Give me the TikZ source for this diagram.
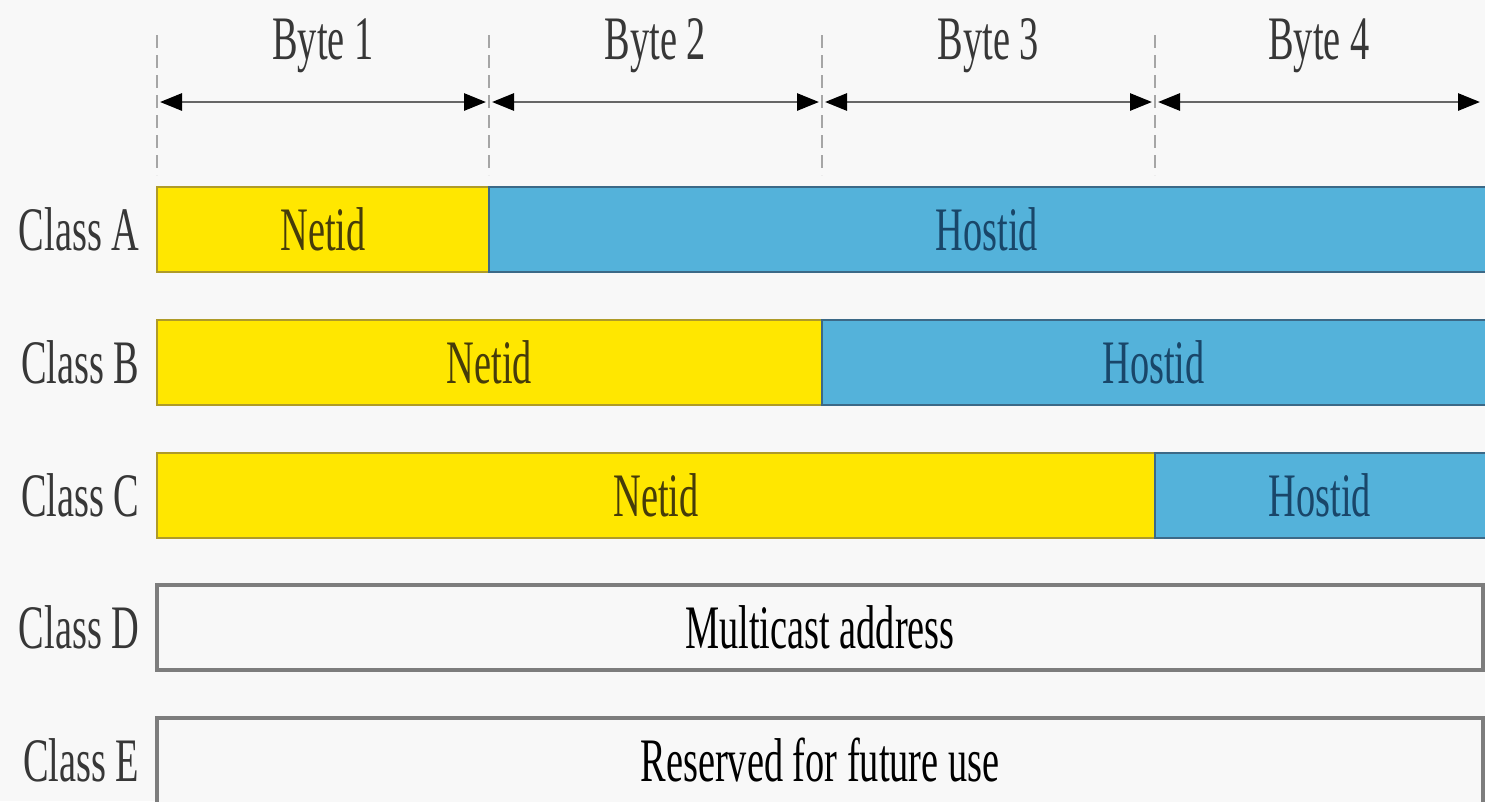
\documentclass[tikz,border=0pt]{standalone}
\usepackage{fontspec}
\setmainfont{Liberation Serif}[FakeStretch=0.62]
\usetikzlibrary{arrows.meta,positioning}
\definecolor{netyellow}{RGB}{255,231,0}
\definecolor{netedge}{RGB}{175,155,40}
\definecolor{nettext}{RGB}{70,60,10}
\definecolor{hostblue}{RGB}{84,178,218}
\definecolor{hostedge}{RGB}{60,105,135}
\definecolor{hosttext}{RGB}{25,70,105}
\definecolor{pagebg}{RGB}{248,248,248}
\definecolor{plainedge}{RGB}{125,125,125}
\definecolor{labelgray}{RGB}{55,55,55}
\tikzset{
  % every text in the same condensed serif
  every node/.append style={font=\fontsize{17.6}{20}\selectfont, inner sep=0pt},
  % Netid part
  netid/.style={draw=netedge, fill=netyellow, line width=0.8pt},
  % Hostid part
  hostid/.style={draw=hostedge, fill=hostblue, line width=0.8pt},
  % class D / E box
  plain/.style={draw=plainedge, fill=pagebg, line width=1.1pt},
  nettxt/.style={text=nettext},
  hosttxt/.style={text=hosttext},
  classlbl/.style={text=labelgray, anchor=east},
  % byte boundaries
  boundary/.style={gray!70, line width=0.5pt, dash pattern=on 1.3mm off 0.7mm},
  bytearr/.style={{Triangle[length=2.2mm, width=1.7mm, black]}-{Triangle[length=2.2mm, width=1.7mm, black]},
    gray!80!black, line width=0.8pt, shorten <=0.3mm, shorten >=0.3mm},
}
\begin{document}
\begin{tikzpicture}[x=0.1mm, y=-0.1mm]
    \useasboundingbox (0,0) rectangle (1485,801);
    \clip (0,0) rectangle (1485,801);
    \fill[pagebg] (0,0) rectangle (1485,801);

    % Byte boundaries
    \foreach \x in {157,489,822,1155}
        \draw[boundary] (\x,35) -- (\x,175);
    \foreach \i/\x in {0/157,1/489,2/822,3/1155,4/1483}
        \coordinate (b\i) at (\x,102);
    \foreach \i/\j in {0/1,1/2,2/3,3/4}
        \draw[bytearr] (b\i) -- (b\j) node[midway, yshift=5.6mm, text=labelgray] (byte\j) {Byte \j};

    % Classes A, B, C
    \foreach \name/\y/\split in {A/187/489, B/320/822, C/453/1155} {
        \draw[netid] (157,\y) rectangle (\split,\y+85);
        \draw[hostid] (\split,\y) rectangle (1495,\y+85);
        \node[nettxt] (net\name) at ({(157+\split)/2},\y+42.5) {Netid};
        \node[hosttxt] (host\name) at ({(\split+1485)/2},\y+42.5) {Hostid};
        \node[classlbl] (class\name) at (140,\y+42.5) {Class \name};
    }

    % Classes D, E
    \draw[plain] (157,585) rectangle (1483,670);
    \node (multi) at (820,627.5) {Multicast address};
    \node[classlbl] (classD) at (140,627.5) {Class D};
    \draw[plain] (157,718) rectangle (1483,812);
    \node (reserved) at (820,760) {Reserved for future use};
    \node[classlbl] (classE) at (140,760) {Class E};
\end{tikzpicture}
\end{document}
